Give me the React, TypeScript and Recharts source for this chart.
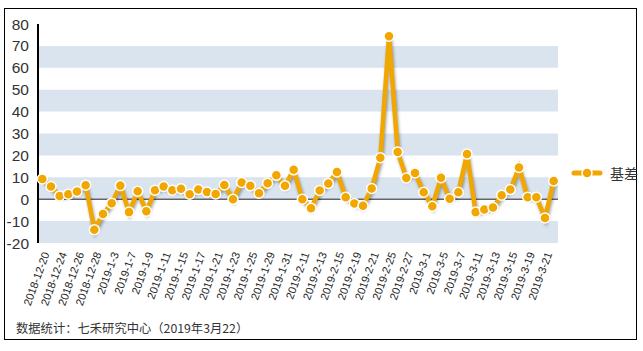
import { LineChart, Line, XAxis, YAxis, ReferenceArea, ReferenceLine } from 'recharts'

// 交易日（2018-12-20 至 2019-3-22）
const dates = [
  '2018-12-20', '2018-12-21', '2018-12-24', '2018-12-25', '2018-12-26', '2018-12-27', '2018-12-28',
  '2019-1-2', '2019-1-3', '2019-1-4', '2019-1-7', '2019-1-8', '2019-1-9', '2019-1-10', '2019-1-11',
  '2019-1-14', '2019-1-15', '2019-1-16', '2019-1-17', '2019-1-18', '2019-1-21', '2019-1-22', '2019-1-23',
  '2019-1-24', '2019-1-25', '2019-1-28', '2019-1-29', '2019-1-30', '2019-1-31', '2019-2-1',
  '2019-2-11', '2019-2-12', '2019-2-13', '2019-2-14', '2019-2-15', '2019-2-18', '2019-2-19', '2019-2-20',
  '2019-2-21', '2019-2-22', '2019-2-25', '2019-2-26', '2019-2-27', '2019-2-28',
  '2019-3-1', '2019-3-4', '2019-3-5', '2019-3-6', '2019-3-7', '2019-3-8', '2019-3-11', '2019-3-12',
  '2019-3-13', '2019-3-14', '2019-3-15', '2019-3-18', '2019-3-19', '2019-3-20', '2019-3-21', '2019-3-22',
]

const basis = [
  9.2, 5.8, 1.5, 2.3, 3.5, 6.4, -13.9, -6.8, -1.8, 6.2, -5.9, 3.6, -5.5, 4.1, 5.8,
  4.1, 4.8, 2.3, 4.4, 3.3, 2.4, 6.5, 0, 7.6, 6.1, 2.7, 7.3, 10.9, 6.1, 13.4,
  0, -4.1, 4.0, 7.2, 12.4, 0.9, -2.0, -3.0, 4.9, 18.9, 74.4, 21.6, 9.7, 12.0,
  3.2, -3.2, 9.8, 0.2, 3.2, 20.6, -5.9, -4.7, -3.8, 1.8, 4.4, 14.5, 0.9, 0.9, -8.6, 8.3,
]

const yTicks = [-20, -10, 0, 10, 20, 30, 40, 50, 60, 70, 80]
const bands = [[60, 70], [40, 50], [20, 30], [0, 10], [-20, -10]]

const data = dates.map((d, i) => ({ date: d, basis: basis[i] }))

const ORANGE = '#f2a600'
const BAND = '#d9e4ef'

function LegendItem() {
  return (
    <div style={{ position: 'absolute', left: 571, top: 163, display: 'flex', alignItems: 'center', fontFamily: '"Noto Sans CJK SC", sans-serif', fontSize: 14, color: '#333' }}>
      <svg width={32} height={12}>
        <line x1={3} y1={6} x2={29} y2={6} stroke={ORANGE} strokeWidth={5} strokeLinecap="round" />
        <circle cx={16} cy={6} r={5} fill={ORANGE} stroke="#fff" strokeWidth={1.5} />
      </svg>
      <span style={{ marginLeft: 7 }}>基差</span>
    </div>
  )
}

export default function App() {
  return (
    <div style={{ position: 'relative', width: 643, height: 351, background: '#fff' }}>
      <style>{`body{margin:0} .recharts-line-curve{filter:drop-shadow(1.5px 2px 1.5px rgba(0,0,0,0.35))}`}</style>
      <div style={{ position: 'absolute', left: 4, top: 8, width: 633, height: 332, border: '1.5px solid #000', boxSizing: 'border-box' }} />
      <LineChart width={643} height={351} data={data} margin={{ top: 24, right: 85, left: 0, bottom: 38 }}>
        {bands.map(([a, b]) => (
          <ReferenceArea key={a} y1={a} y2={b} fill={BAND} fillOpacity={1} stroke="none" ifOverflow="visible" />
        ))}
        <ReferenceLine y={0} stroke="#222" strokeWidth={1} />
        <XAxis
          dataKey="date"
          scale="band"
          interval={1}
          angle={-70}
          textAnchor="end"
          height={70}
          axisLine={false}
          tickLine={false}
          tickMargin={2}
          tick={{ fontSize: 11, fill: '#222', fontFamily: '"Liberation Sans", Arial, sans-serif' }}
        />
        <YAxis
          domain={[-20, 80]}
          ticks={yTicks}
          interval={0}
          width={38}
          axisLine={{ stroke: '#000', strokeWidth: 2 }}
          tickLine={false}
          tickMargin={3}
          tick={{ fontSize: 15.5, fill: '#333', fontFamily: '"Liberation Sans", Arial, sans-serif' }}
        />
        <Line
          dataKey="basis"
          name="基差"
          stroke={ORANGE}
          strokeWidth={4.5}
          dot={{ r: 5, fill: ORANGE, stroke: '#fff', strokeWidth: 1.5 }}
          activeDot={false}
          isAnimationActive={false}
        />
      </LineChart>
      <LegendItem />
      <div style={{ position: 'absolute', left: 16, top: 319, fontFamily: '"Noto Sans CJK SC", sans-serif', fontSize: 12.3, color: '#333' }}>
        数据统计：七禾研究中心（2019年3月22）
      </div>
    </div>
  )
}
